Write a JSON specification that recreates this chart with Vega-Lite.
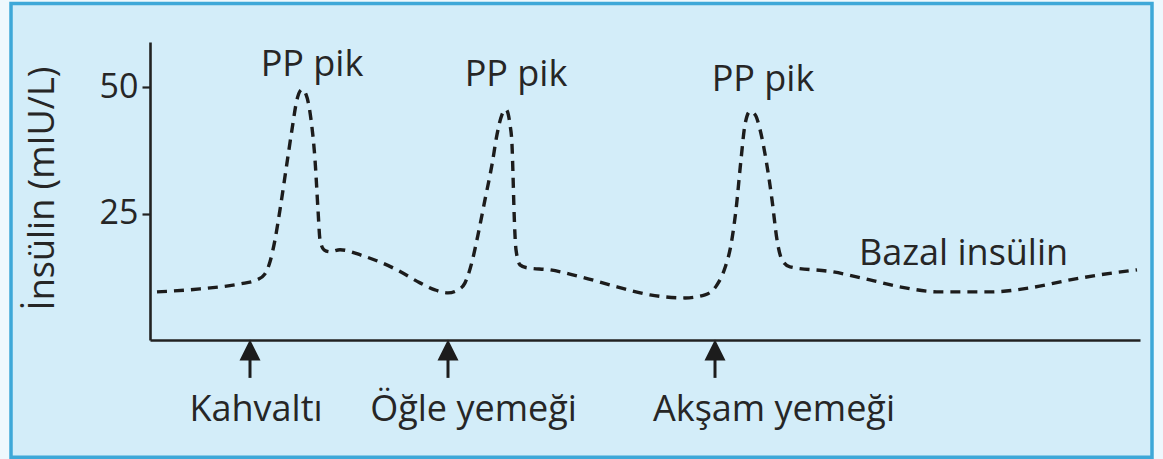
{
  "$schema": "https://vega.github.io/schema/vega-lite/v6.json",
  "autosize": "none",
  "width": 990,
  "height": 298,
  "padding": {"left": 150, "top": 42, "right": 23, "bottom": 119},
  "background": "#eef8fd",
  "config": {
    "view": {"stroke": null},
    "font": "Open Sans"
  },
  "datasets": {
    "insulin": [
      {"t": 0.7, "value": 9.52}, {"t": 5.0, "value": 10.12}, {"t": 9.0, "value": 11.11}, {"t": 10.7, "value": 11.9},
      {"t": 11.5, "value": 13.1}, {"t": 12.0, "value": 15.48}, {"t": 12.5, "value": 19.84}, {"t": 13.0, "value": 25.79},
      {"t": 13.6, "value": 33.73}, {"t": 14.2, "value": 41.67}, {"t": 14.7, "value": 47.62}, {"t": 15.2, "value": 49.6},
      {"t": 15.6, "value": 48.61}, {"t": 16.1, "value": 43.65}, {"t": 16.5, "value": 35.71}, {"t": 16.8, "value": 25.79},
      {"t": 17.0, "value": 19.84}, {"t": 17.4, "value": 17.86}, {"t": 18.0, "value": 17.46}, {"t": 19.0, "value": 17.86},
      {"t": 21.3, "value": 16.67}, {"t": 24.7, "value": 13.89}, {"t": 27.0, "value": 11.31}, {"t": 28.5, "value": 9.92},
      {"t": 29.8, "value": 9.33}, {"t": 30.8, "value": 9.92}, {"t": 31.5, "value": 11.31}, {"t": 32.2, "value": 15.48},
      {"t": 32.8, "value": 20.83}, {"t": 33.5, "value": 27.78}, {"t": 34.2, "value": 34.72}, {"t": 34.7, "value": 40.67},
      {"t": 35.2, "value": 44.64}, {"t": 35.6, "value": 45.63}, {"t": 36.0, "value": 42.66}, {"t": 36.2, "value": 38.69},
      {"t": 36.3, "value": 32.74}, {"t": 36.4, "value": 25.79}, {"t": 36.6, "value": 17.86}, {"t": 37.0, "value": 14.88},
      {"t": 37.7, "value": 14.29}, {"t": 40.0, "value": 13.89}, {"t": 42.7, "value": 12.7}, {"t": 46.7, "value": 10.52},
      {"t": 50.0, "value": 8.93}, {"t": 53.5, "value": 8.33}, {"t": 55.5, "value": 8.93}, {"t": 56.7, "value": 10.91},
      {"t": 57.5, "value": 14.29}, {"t": 58.1, "value": 18.85}, {"t": 58.6, "value": 25.79}, {"t": 59.1, "value": 35.71},
      {"t": 59.5, "value": 42.66}, {"t": 60.0, "value": 45.24}, {"t": 60.5, "value": 44.64}, {"t": 61.0, "value": 41.67},
      {"t": 61.6, "value": 35.71}, {"t": 62.2, "value": 27.78}, {"t": 62.7, "value": 19.84}, {"t": 63.2, "value": 15.87},
      {"t": 64.0, "value": 14.48}, {"t": 68.3, "value": 13.49}, {"t": 72.0, "value": 11.9}, {"t": 75.0, "value": 10.52},
      {"t": 79.0, "value": 9.52}, {"t": 84.0, "value": 9.52}, {"t": 88.0, "value": 10.32}, {"t": 92.0, "value": 11.9},
      {"t": 95.0, "value": 12.9}, {"t": 98.7, "value": 13.89}
    ],
    "meals": [
      {"meal": "Kahvaltı", "t": 10.0, "labelT": 10.6},
      {"meal": "Öğle yemeği", "t": 29.8, "labelT": 32.35},
      {"meal": "Akşam yemeği", "t": 56.5, "labelT": 62.4}
    ],
    "notes": [
      {"note": "PP pik", "t": 16.2, "value": 52.2},
      {"note": "PP pik", "t": 36.6, "value": 50.2},
      {"note": "PP pik", "t": 61.3, "value": 49.2},
      {"note": "Bazal insülin", "t": 81.35, "value": 14.9}
    ]
  },
  "layer": [
    {
      "data": {"values": [{}]},
      "mark": {"type": "rect", "fill": "#d3edf9", "stroke": "#3ea8d8", "strokeWidth": 3.5},
      "encoding": {
        "x": {
          "datum": -13.9, "type": "quantitative",
          "scale": {"domain": [0, 99], "nice": false, "zero": false},
          "axis": {"zindex": 1, "title": null, "labels": false, "ticks": false, "grid": false, "domainColor": "#222222", "domainWidth": 2.6}
        },
        "x2": {"datum": 100.2},
        "y": {
          "datum": 66.6, "type": "quantitative",
          "scale": {"domain": [0, 59], "nice": false},
          "axis": {
            "zindex": 1, "grid": false, "values": [25, 50],
            "domainColor": "#222222", "domainWidth": 2.6,
            "tickColor": "#222222", "tickWidth": 2.2, "tickSize": 8, "labelPadding": 4,
            "labelFont": "Open Sans", "labelFontSize": 34, "labelColor": "#262626",
            "title": "İnsülin (mIU/L)", "titleFont": "Open Sans", "titleFontSize": 36,
            "titleFontWeight": "normal", "titleColor": "#262626", "titlePadding": 38, "titleY": 146
          }
        },
        "y2": {"datum": -23.2}
      }
    },
    {
      "data": {"name": "insulin"},
      "mark": {"type": "line", "interpolate": "monotone", "color": "#1c1c1c", "strokeWidth": 3.4, "strokeDash": [10, 7]},
      "encoding": {
        "x": {"field": "t", "type": "quantitative"},
        "y": {"field": "value", "type": "quantitative"}
      }
    },
    {
      "data": {"name": "meals"},
      "mark": {"type": "rule", "color": "#1c1c1c", "strokeWidth": 3},
      "encoding": {
        "x": {"field": "t", "type": "quantitative"},
        "y": {"datum": -2},
        "y2": {"datum": -7.5}
      }
    },
    {
      "data": {"name": "meals"},
      "mark": {"type": "point", "shape": "M0,-1L1,1L-1,1Z", "filled": true, "color": "#1c1c1c", "opacity": 1, "size": 441},
      "encoding": {
        "x": {"field": "t", "type": "quantitative"},
        "y": {"datum": -2}
      }
    },
    {
      "data": {"name": "meals"},
      "mark": {"type": "text", "font": "Open Sans", "fontSize": 36, "color": "#262626", "baseline": "alphabetic", "align": "center"},
      "encoding": {
        "x": {"field": "labelT", "type": "quantitative"},
        "y": {"datum": -16.1},
        "text": {"field": "meal"}
      }
    },
    {
      "data": {"name": "notes"},
      "mark": {"type": "text", "font": "Open Sans", "fontSize": 36, "color": "#262626", "baseline": "alphabetic", "align": "center"},
      "encoding": {
        "x": {"field": "t", "type": "quantitative"},
        "y": {"field": "value", "type": "quantitative"},
        "text": {"field": "note"}
      }
    }
  ]
}
